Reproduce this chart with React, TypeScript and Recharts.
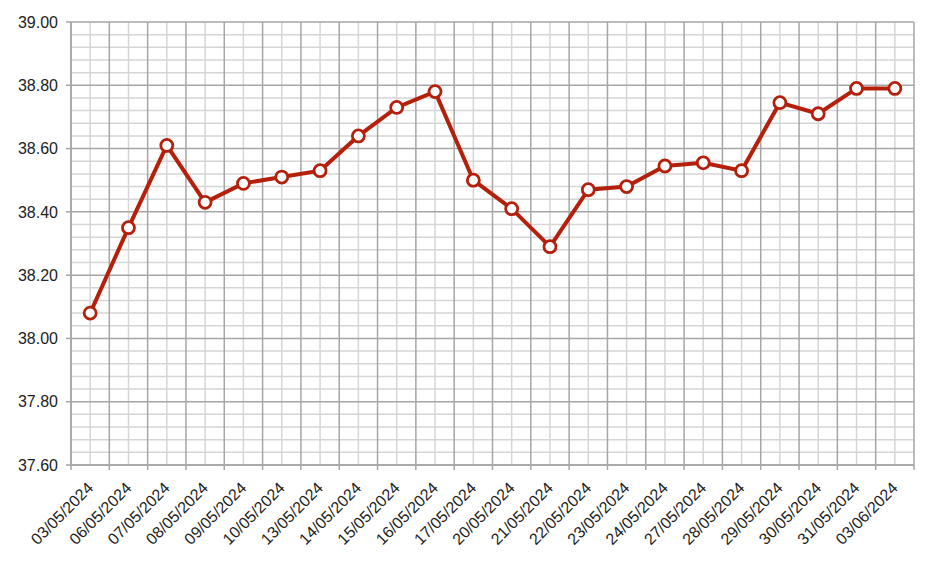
import React from 'react'
import { LineChart, Line, XAxis, YAxis, CartesianGrid } from 'recharts'

const DATES = [
  '03/05/2024', '06/05/2024', '07/05/2024', '08/05/2024', '09/05/2024', '10/05/2024',
  '13/05/2024', '14/05/2024', '15/05/2024', '16/05/2024', '17/05/2024', '20/05/2024',
  '21/05/2024', '22/05/2024', '23/05/2024', '24/05/2024', '27/05/2024', '28/05/2024',
  '29/05/2024', '30/05/2024', '31/05/2024', '03/06/2024',
]

const VALUES = [
  38.08, 38.35, 38.61, 38.43, 38.49, 38.51,
  38.53, 38.64, 38.73, 38.78, 38.5, 38.41,
  38.29, 38.47, 38.48, 38.545, 38.555, 38.53,
  38.745, 38.71, 38.79, 38.79,
]

const Y_TICKS = [37.6, 37.8, 38.0, 38.2, 38.4, 38.6, 38.8, 39.0]

// grid positions: boundaries between dates (major) and date centres (minor)
const X_BOUNDS = DATES.map((_, i) => i).concat(DATES.length)
const X_CENTRES = DATES.map((_, i) => i + 0.5)
const Y_MINOR: number[] = []
for (let i = 0; i < Y_TICKS.length - 1; i++) {
  for (let k = 1; k < 5; k++) Y_MINOR.push(Y_TICKS[i] + k * 0.04)
}

const data = DATES.map((d, i) => ({ x: i + 0.5, date: d, value: VALUES[i] }))

const RED = '#b5200d'
const MAJOR = '#a6a6a6'
const MINOR = '#d6d6d6'
const TICK_SIZE = 5
const TICK_MARGIN = 9

function DateTick(props: any) {
  const { x, y, payload } = props
  const v = payload.value as number
  if (Number.isInteger(v)) {
    return (
      <line x1={x} x2={x} y1={y - TICK_MARGIN - TICK_SIZE} y2={y - TICK_MARGIN} stroke={MAJOR} strokeWidth={1.5} />
    )
  }
  const label = DATES[Math.floor(v)]
  const ax = x - 4
  const ay = y + 2
  return (
    <text
      x={ax}
      y={ay}
      dy="0.71em"
      textAnchor="end"
      transform={`rotate(-45, ${ax}, ${ay})`}
      fill="#222"
      fontSize={16}
      fontFamily="Arial, 'Liberation Sans', sans-serif"
    >
      {label}
    </text>
  )
}

export default function App() {
  const xTicks = [...X_BOUNDS, ...X_CENTRES].sort((a, b) => a - b)
  return (
    <div style={{ position: 'absolute', left: 0, top: 0, width: 932, height: 566, background: '#fff' }}>
      <LineChart width={932} height={566} data={data} margin={{ top: 22, right: 18, bottom: 0, left: 0 }}>
        <CartesianGrid
          horizontalValues={Y_MINOR}
          verticalValues={X_CENTRES}
          stroke={MINOR}
          strokeWidth={1.5}
        />
        <CartesianGrid
          horizontalValues={Y_TICKS}
          verticalValues={X_BOUNDS}
          stroke={MAJOR}
          strokeWidth={1.5}
        />
        <XAxis
          dataKey="x"
          type="number"
          domain={[0, DATES.length]}
          ticks={xTicks}
          interval={0}
          height={101}
          tickLine={false}
          tickSize={TICK_SIZE}
          tickMargin={TICK_MARGIN}
          axisLine={{ stroke: MAJOR, strokeWidth: 1.5 }}
          tick={<DateTick />}
        />
        <YAxis
          type="number"
          domain={[37.6, 39.0]}
          ticks={Y_TICKS}
          interval={0}
          width={71}
          tickSize={5}
          tickMargin={8}
          tickLine={{ stroke: MAJOR, strokeWidth: 1.5 }}
          axisLine={{ stroke: MAJOR, strokeWidth: 1.5 }}
          tickFormatter={(v: number) => v.toFixed(2)}
          tick={{ fill: '#222', fontSize: 16, fontFamily: "Arial, 'Liberation Sans', sans-serif" }}
        />
        <Line
          dataKey="value"
          stroke={RED}
          strokeWidth={4}
          dot={{ r: 6, fill: '#fff', stroke: RED, strokeWidth: 2.8 }}
          activeDot={false}
          isAnimationActive={false}
        />
      </LineChart>
    </div>
  )
}
